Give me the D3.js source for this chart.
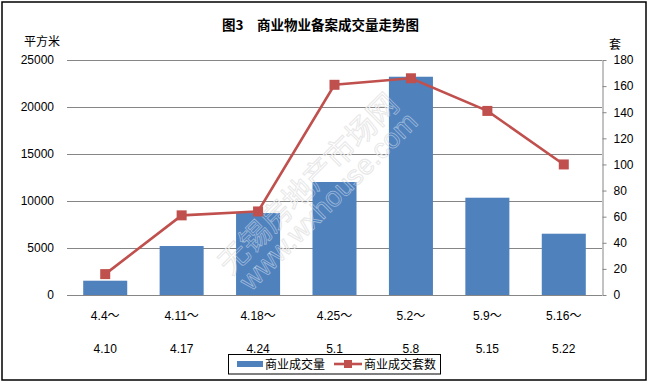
<!DOCTYPE html>
<html>
<head>
<meta charset="utf-8">
<script src="https://cdn.jsdelivr.net/npm/d3@7"></script>
<style>
  html, body { margin: 0; padding: 0; background: #fff; }
  svg { display: block; }
</style>
</head>
<body>
<script>
// ---- data ----
const catStart = ["4.4～", "4.11～", "4.18～", "4.25～", "5.2～", "5.9～", "5.16～"];
const catEnd   = ["4.10", "4.17", "4.24", "5.1", "5.8", "5.15", "5.22"];
const areaValues  = [1520, 5210, 8720, 12020, 23220, 10350, 6520];   // 商业成交量 (平方米)
const unitValues  = [16, 61, 64, 161, 166, 141, 100];               // 商业成交套数 (套)
const leftTicks   = [0, 5000, 10000, 15000, 20000, 25000];
const rightTicks  = [0, 20, 40, 60, 80, 100, 120, 140, 160, 180];
const titleParts  = ["图3", "商业物业备案成交量走势图"];
const leftUnit    = "平方米";
const rightUnit   = "套";
const seriesNames = ["商业成交量", "商业成交套数"];
const watermark   = ["无锡房地产市场网", "www.wxhouse.com"];

// ---- layout ----
const W = 649, H = 383;
const plot = { left: 67, right: 602, top: 60, bottom: 295 };
const barColor = "#4F81BD", lineColor = "#C0504D", gridColor = "#868686";
const numFont = "'Liberation Sans', Arial, sans-serif";
const cjkFont = "'Noto Sans CJK SC', 'Liberation Sans', sans-serif";

const svg = d3.select("body").append("svg").attr("width", W).attr("height", H);

// outer border
svg.append("rect").attr("x", 2).attr("y", 2).attr("width", 644).attr("height", 378)
  .attr("fill", "#fff").attr("stroke", "#000").attr("stroke-width", 1.5);

const x = d3.scaleBand().domain(d3.range(catStart.length))
  .range([plot.left, plot.right]).paddingInner(0.424).paddingOuter(0.212);
const yL = d3.scaleLinear().domain([0, 25000]).range([plot.bottom, plot.top]);
const yR = d3.scaleLinear().domain([0, 180]).range([plot.bottom, plot.top]);

// gridlines
svg.append("g").selectAll("line").data(leftTicks).join("line")
  .attr("x1", plot.left).attr("x2", plot.right)
  .attr("y1", d => Math.round(yL(d)) + 0.5).attr("y2", d => Math.round(yL(d)) + 0.5)
  .attr("stroke", gridColor).attr("stroke-width", 1);

// watermark
function drawWatermark(stroke, opacity) {
  const wm = svg.append("g").attr("fill", "none").attr("stroke", stroke)
    .attr("stroke-opacity", opacity).attr("stroke-width", 0.8);
  wm.append("text").attr("transform", "translate(231,276) rotate(-45)")
    .attr("font-family", cjkFont).attr("font-size", 30).text(watermark[0]);
  wm.append("text").attr("transform", "translate(251,292) rotate(-45)")
    .attr("font-family", numFont).attr("font-size", 28).text(watermark[1]);
}
drawWatermark("#d8d8d8", 1);

// bars
svg.append("g").selectAll("rect").data(areaValues).join("rect")
  .attr("x", (d, i) => x(i)).attr("width", x.bandwidth())
  .attr("y", d => yL(d)).attr("height", d => yL(0) - yL(d))
  .attr("fill", barColor);

// faint watermark over bars
drawWatermark("#ffffff", 0.45);

// line
const cx = i => x(i) + x.bandwidth() / 2;
svg.append("path").datum(unitValues)
  .attr("d", d3.line().x((d, i) => cx(i)).y(d => yR(d)))
  .attr("fill", "none").attr("stroke", lineColor).attr("stroke-width", 2.6);
svg.append("g").selectAll("rect").data(unitValues).join("rect")
  .attr("x", (d, i) => cx(i) - 5).attr("y", d => yR(d) - 5)
  .attr("width", 10).attr("height", 10).attr("fill", lineColor);

// left axis
const gL = svg.append("g").attr("transform", `translate(${plot.left},0)`)
  .call(d3.axisLeft(yL).tickValues(leftTicks).tickSize(0).tickPadding(13).tickFormat(d3.format("d")));
gL.select(".domain").remove();
gL.selectAll("text").attr("font-family", numFont).attr("font-size", 12).attr("fill", "#000");

// right axis
const gR = svg.append("g").attr("transform", `translate(${plot.right + 0.5},0)`)
  .call(d3.axisRight(yR).tickValues(rightTicks).tickSize(4).tickSizeOuter(0).tickPadding(7));
gR.select(".domain").attr("stroke", gridColor);
gR.selectAll(".tick line").attr("stroke", gridColor);
gR.selectAll("text").attr("font-family", numFont).attr("font-size", 12).attr("fill", "#000");

// bottom axis labels (two rows)
const gB = svg.append("g").attr("transform", `translate(0,${plot.bottom})`)
  .call(d3.axisBottom(x).tickSize(0).tickFormat(i => catStart[i]));
gB.select(".domain").remove();
gB.selectAll("text").each(function(i) {
  const t = d3.select(this).text(null).attr("y", 0).attr("dy", null)
    .attr("font-family", numFont).attr("font-size", 12).attr("fill", "#000");
  const s = catStart[i];
  const row1 = t.append("tspan").attr("x", 0).attr("y", 25).text(s.slice(0, -1));
  t.append("tspan").attr("font-family", cjkFont).text(s.slice(-1));
  t.append("tspan").attr("x", 0).attr("y", 58).text(catEnd[i]);
});

// title and unit labels
const title = svg.append("text").attr("y", 30)
  .attr("font-family", cjkFont).attr("font-weight", "bold").attr("font-size", 13.5);
title.append("tspan").attr("x", 222).text(titleParts[0]);
title.append("tspan").attr("x", 257).text(titleParts[1]);
svg.append("text").attr("x", 24).attr("y", 46).attr("font-family", cjkFont).attr("font-size", 12)
  .text(leftUnit);
svg.append("text").attr("x", 609).attr("y", 49).attr("font-family", cjkFont).attr("font-size", 12)
  .text(rightUnit);

// legend
const lg = svg.append("g");
lg.append("rect").attr("x", 228.5).attr("y", 354.5).attr("width", 212).attr("height", 19.5)
  .attr("fill", "#fff").attr("stroke", "#000").attr("stroke-width", 1);
lg.append("rect").attr("x", 237).attr("y", 361).attr("width", 26).attr("height", 6).attr("fill", barColor);
lg.append("text").attr("x", 265).attr("y", 369).attr("font-family", cjkFont).attr("font-size", 12)
  .text(seriesNames[0]);
lg.append("line").attr("x1", 334).attr("x2", 362).attr("y1", 364).attr("y2", 364)
  .attr("stroke", lineColor).attr("stroke-width", 2.6);
lg.append("rect").attr("x", 344).attr("y", 360).attr("width", 8).attr("height", 8).attr("fill", lineColor);
lg.append("text").attr("x", 364).attr("y", 369).attr("font-family", cjkFont).attr("font-size", 12)
  .text(seriesNames[1]);
</script>
</body>
</html>
